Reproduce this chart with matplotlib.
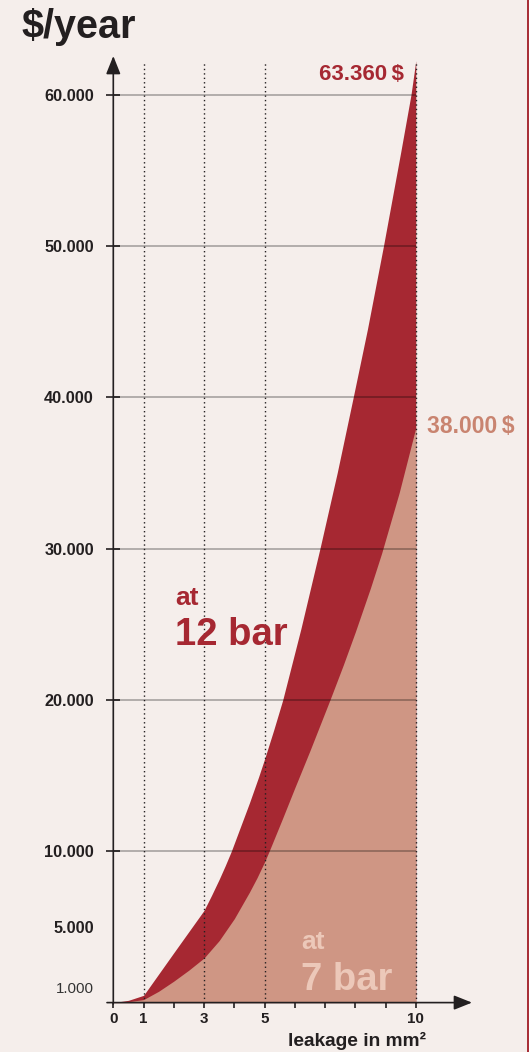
import matplotlib
matplotlib.use("Agg")
import matplotlib.pyplot as plt

plt.rcParams["font.family"] = ["Liberation Sans", "DejaVu Sans"]

# data
leak_12bar = [0, 0.5, 1, 2, 3, 3.25, 3.5, 3.7, 3.9, 4.2, 4.5, 4.8, 5, 5.3, 5.6, 6.2, 6.83,
              7.4, 7.93, 8.4, 8.93, 9.5, 9.84, 10]
cost_12bar = [0, 150, 480, 3300, 6100, 7100, 8150, 9050, 10000, 11600, 13200, 14900, 16100,
              18000, 20000, 24700, 30000, 35000, 40000, 44500, 50000, 56200, 60000, 62250]
leak_7bar = [0, 0.5, 1, 1.5, 2, 2.5, 3, 3.5, 4, 4.5, 4.75, 5, 5.15, 5.6, 6, 6.5, 7.16, 7.6, 8,
             8.5, 8.87, 9.45, 10]
cost_7bar = [0, 60, 200, 750, 1420, 2150, 2950, 4100, 5550, 7300, 8250, 9300, 10000, 12200,
             14200, 16650, 20000, 22300, 24500, 27400, 29700, 33700, 38000]

y_major = [10000, 20000, 30000, 40000, 50000, 60000]
y_major_labels = ["10.000", "20.000", "30.000", "40.000", "50.000", "60.000"]
y_minor = [1000, 5000]
y_minor_labels = ["1.000", "5.000"]
x_major = [0, 1, 3, 5, 10]
x_minor = [2, 4, 6, 7, 8, 9]
x_dotted = [1, 3, 5, 10]

label_12bar = "63.360\u2009$"
label_7bar = "38.000\u2009$"

# colours
BG = "#f5eeeb"
DARK = "#a62832"
LIGHT = "#cf9684"
INK = "#231f20"

# pixel calibration of the reference (529 x 1052)
W, H = 529, 1052
PX_X0, PX_PER_X = 113.3, 30.25
PX_Y0, PX_PER_Y = 1002.6, 151.3 / 10000


def xv(px):
    return (px - PX_X0) / PX_PER_X


def yv(py):
    return (PX_Y0 - py) / PX_PER_Y


fig = plt.figure(figsize=(W / 100, H / 100), dpi=100, facecolor=BG)
ax = fig.add_axes([0, 0, 1, 1])
ax.set_facecolor(BG)
ax.set_xlim(xv(0), xv(W))
ax.set_ylim(yv(H), yv(0))

# areas
ax.fill_between(leak_12bar, 0, cost_12bar, color=DARK, lw=0, zorder=1)
ax.fill_between(leak_7bar, 0, cost_7bar, color=LIGHT, lw=0, zorder=1.1)

# grid and dotted guides
ax.hlines(y_major, 0, 10, colors="black", alpha=0.35, lw=1.1, zorder=2)
ax.vlines(x_dotted, 0, yv(60.7), colors=INK, linestyles=(0, (1, 2.2)), lw=1.0, zorder=3)

# axes with arrows
for s in ["top", "right"]:
    ax.spines[s].set_visible(False)
ax.spines["left"].set_position(("data", 0))
ax.spines["bottom"].set_position(("data", 0))
ax.spines["left"].set_color("none")
ax.spines["bottom"].set_color("none")
arrow = dict(arrowstyle="-|>,head_length=0.55,head_width=0.22", mutation_scale=20,
             lw=1.2, color=INK, shrinkA=0, shrinkB=0)
ax.annotate("", xy=(0, yv(56)), xytext=(0, yv(1004)), arrowprops=arrow, zorder=4)
ax.annotate("", xy=(xv(472), 0), xytext=(xv(107), 0), arrowprops=arrow, zorder=4)

# y ticks
ax.set_yticks(y_major, y_major_labels)
ax.set_yticks(y_minor, y_minor_labels, minor=True)
ax.tick_params(axis="y", which="major", direction="inout", length=9.4, width=1.2,
               color=INK, pad=9.2, labelsize=11.7, labelcolor=INK)
ax.tick_params(axis="y", which="minor", length=0, pad=13.9, labelsize=11.7, labelcolor=INK)
for lab in ax.get_yticklabels():
    lab.set_fontweight("bold")
for lab in ax.get_yticklabels(minor=True):
    lab.set_fontweight("bold" if lab.get_text() == "5.000" else "normal")
    if lab.get_text() == "1.000":
        lab.set_fontsize(10.8)
        lab.set_color("#333333")

# x ticks
ax.set_xticks(x_major, [str(v) for v in x_major])
ax.set_xticks(x_minor, minor=True)
ax.tick_params(axis="x", which="both", direction="out", length=3.6, width=1.2,
               color=INK, pad=3.3, labelsize=10.9, labelcolor=INK)
for lab in ax.get_xticklabels():
    lab.set_fontweight("bold")

# texts (pixel positions)
def ftext(px, py, s, **kw):
    fig.text(px / W, 1 - py / H, s, **kw)


ftext(22, 38, "\\$/year", fontsize=28.5, fontweight="bold", color=INK, va="baseline")
ftext(404, 79.5, label_12bar, fontsize=16, fontweight="bold", color=DARK, ha="right", va="baseline")
ftext(427, 432.7, label_7bar, fontsize=16.5, fontweight="bold", color="#c98470", va="baseline")
ftext(175, 605, "at", fontsize=19, fontweight="bold", color=DARK, va="baseline")
ftext(175, 645, "12 bar", fontsize=27.5, fontweight="bold", color=DARK, va="baseline")
ftext(301, 949, "at", fontsize=19, fontweight="bold", color="#ecc8b9", va="baseline")
ftext(301, 989.6, "7 bar", fontsize=27.5, fontweight="bold", color="#ecc8b9", va="baseline")
ftext(426, 1046, "leakage in mm²", fontsize=13.8, fontweight="bold", color=INK, ha="right",
      va="baseline")

# red strip on the right edge
fig.add_artist(plt.Rectangle((526.5 / W, 0), 2.5 / W, 1, transform=fig.transFigure,
                             color="#a83038", lw=0))

fig.savefig("out.png", dpi=100, facecolor=BG)
